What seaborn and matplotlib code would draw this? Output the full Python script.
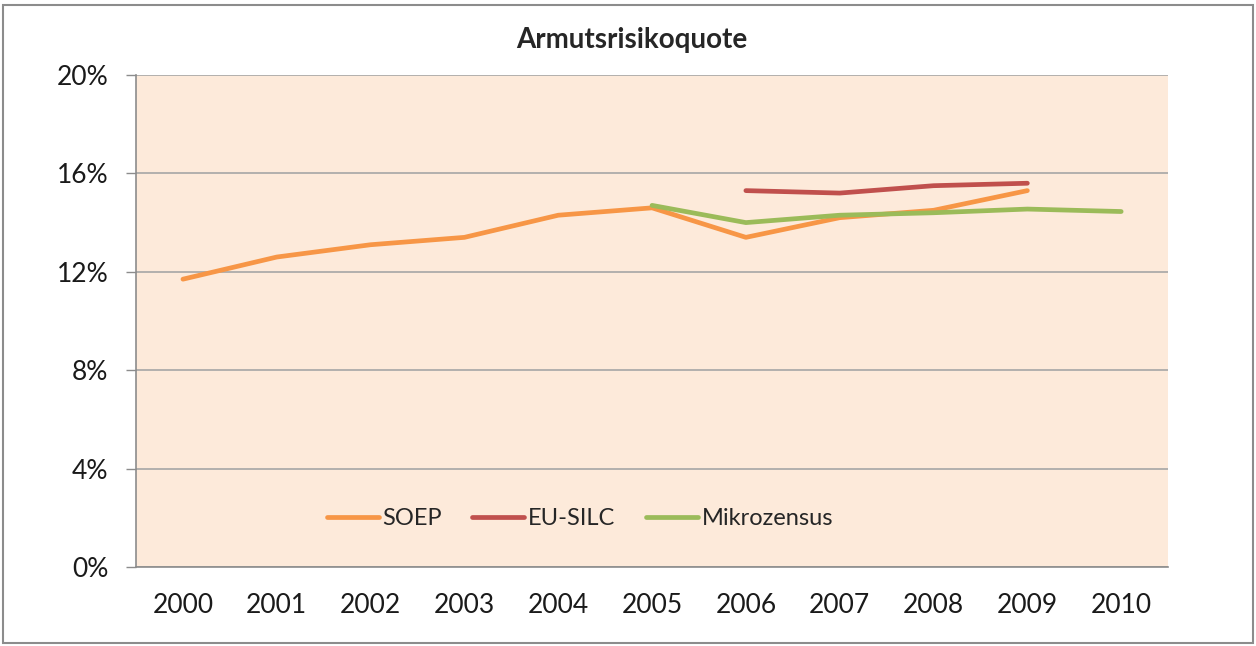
import numpy as np
import pandas as pd
import matplotlib
matplotlib.use("Agg")
import matplotlib.pyplot as plt
import seaborn as sns
from matplotlib.patches import Rectangle
from matplotlib.ticker import FixedLocator

# Werte (Prozent)
years = [2000, 2001, 2002, 2003, 2004, 2005, 2006, 2007, 2008, 2009, 2010]
soep_years = [2000, 2001, 2002, 2003, 2004, 2005, 2006, 2007, 2008, 2009]
soep = [11.7, 12.6, 13.1, 13.4, 14.3, 14.6, 13.4, 14.2, 14.5, 15.3]
silc_years = [2006, 2007, 2008, 2009]
eu_silc = [15.3, 15.2, 15.5, 15.6]
mz_years = [2005, 2006, 2007, 2008, 2009, 2010]
mikrozensus = [14.7, 14.0, 14.3, 14.4, 14.55, 14.45]
y_ticks = [0, 4, 8, 12, 16, 20]

df = pd.concat([
    pd.DataFrame({"Jahr": soep_years, "Quote": soep, "Quelle": "SOEP"}),
    pd.DataFrame({"Jahr": silc_years, "Quote": eu_silc, "Quelle": "EU-SILC"}),
    pd.DataFrame({"Jahr": mz_years, "Quote": mikrozensus, "Quelle": "Mikrozensus"}),
])

sns.set_style("white")
plt.rcParams["font.family"] = ["Lato", "DejaVu Sans"]

fig = plt.figure(figsize=(12.56, 6.46), dpi=100)
ax = fig.add_axes([0.1083, 0.1223, 0.8217, 0.7616])
ax.set_facecolor("#FDEADA")

farben = {"SOEP": "#F79646", "EU-SILC": "#C0504D", "Mikrozensus": "#9BBB59"}
sns.lineplot(data=df, x="Jahr", y="Quote", hue="Quelle", palette=farben,
             linewidth=3.4, ax=ax, legend=True)

ax.set_xlim(years[0] - 0.5, years[-1] + 0.5)
ax.set_ylim(0, 20)
ax.set_xticks(years)
ax.set_xticklabels([str(y) for y in years], fontsize=19, color="#1A1A1A")
ax.xaxis.set_minor_locator(FixedLocator(np.arange(years[0] - 0.5, years[-1] + 1, 1)))
ax.tick_params(axis="x", which="major", length=0, pad=19)
ax.tick_params(axis="x", which="minor", length=8, color="#8C8C8C", width=1)
ax.set_yticks(y_ticks)
ax.set_yticklabels([f"{v}%" for v in y_ticks], fontsize=19, color="#1A1A1A")
ax.tick_params(axis="y", length=7, color="#8C8C8C", width=1, pad=13, left=True)

ax.grid(axis="y", color="#A6A6A6", linewidth=1.2)
ax.set_axisbelow(True)
for s in ["top", "right"]:
    ax.spines[s].set_visible(False)
for s in ["left", "bottom"]:
    ax.spines[s].set_color("#8C8C8C")
    ax.spines[s].set_linewidth(1.2)
ax.set_xlabel("")
ax.set_ylabel("")

leg = ax.legend(loc="center", bbox_to_anchor=(0.43, 0.098), ncol=3, frameon=False,
                fontsize=17, handlelength=2.2, handletextpad=0.15, columnspacing=1.3)
for line in leg.get_lines():
    line.set_linewidth(3.4)

fig.text(0.503, 1 - 40 / 646, "Armutsrisikoquote", ha="center", va="center",
         fontsize=20, fontweight="bold")

fig.patches.append(Rectangle((3 / 1256, 3 / 646), 1250 / 1256, 638 / 646,
                             transform=fig.transFigure, fill=False,
                             edgecolor="#8C8C8C", linewidth=1.5))

fig.savefig("out.png", dpi=100)
